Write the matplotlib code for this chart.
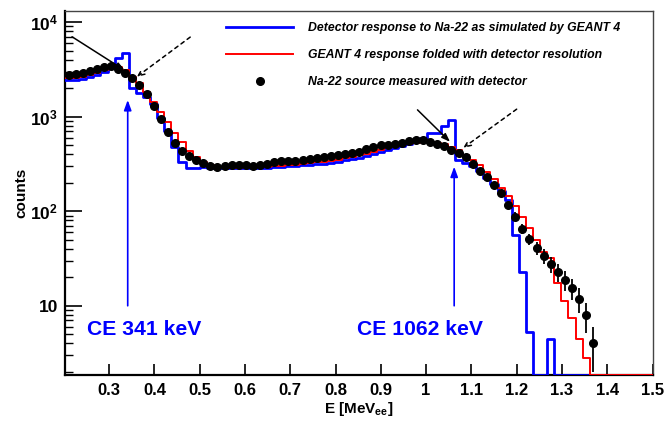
import numpy as np
import matplotlib
matplotlib.use('Agg')
import matplotlib.pyplot as plt
from matplotlib.lines import Line2D
from matplotlib.ticker import FixedLocator, LogLocator, NullFormatter, NullLocator

plt.rcParams['font.family'] = ['Liberation Sans', 'DejaVu Sans']
plt.rcParams['mathtext.fontset'] = 'custom'
plt.rcParams['mathtext.rm'] = 'Liberation Sans:bold'
plt.rcParams['mathtext.bf'] = 'Liberation Sans:bold'
plt.rcParams['mathtext.it'] = 'Liberation Sans:bold:italic'

# ---- data -------------------------------------------------------------
bin_start = 0.2025      # MeV_ee, low edge of first bin
bin_width = 0.01566     # MeV_ee

geant = [2422, 2452, 2512, 2606, 2735, 2943, 3365, 4160, 4698, 2003,
         1773, 1620, 1366, 964, 707, 483, 335, 285, 285, 296,
         285, 284, 284, 284, 285, 285, 287, 287, 289, 291,
         294, 298, 302, 305, 309, 313, 318, 324, 334, 345,
         353, 367, 382, 399, 419, 440, 462, 487, 516, 548,
         597, 669, 669, 799, 914, 349, 324, 302, 267, 225,
         195, 164, 132, 56.2, 23.0, 5.3, 0, 0, 4.5, 0,
         0, 0, 0, 0, 0, 0, 0, 0, 0, 0, 0, 0, 0]

folded = [2543, 2574, 2637, 2735, 2908, 3128, 3325, 3365, 3128, 2657,
          2262, 1830, 1445, 1132, 888, 679, 545, 438, 378, 335,
          305, 294, 291, 289, 289, 291, 292, 294, 296, 299,
          303, 307, 311, 317, 322, 328, 335, 342, 352, 362,
          376, 390, 406, 424, 443, 462, 482, 501, 518, 532,
          541, 541, 532, 509, 479, 445, 394, 349, 309, 263,
          218, 175, 145, 114, 87.7, 66.1, 49.7, 37.1, 31.8, 17.3,
          11.1, 7.4, 4.5, 2.8, 0, 0, 0, 0, 0, 0, 0, 0, 0]

measured = [2769, 2838, 2930, 3052, 3205, 3340, 3448, 3205, 2930, 2555,
            2170, 1730, 1311, 952, 691, 528, 435, 385, 349, 322,
            304, 296, 300, 307, 309, 307, 304, 305, 317, 330,
            338, 341, 341, 347, 355, 366, 375, 385, 394, 401,
            411, 427, 456, 483, 499, 507, 516, 531, 550, 561,
            561, 539, 513, 485, 448, 416, 371, 317, 267, 229,
            190, 155, 115, 87.7, 65.5, 50.9, 41.2, 33.7, 27.4, 22.6,
            18.8, 15.4, 11.8, 8.0, 4.0]

legend_labels = ['Detector response to Na-22 as simulated by GEANT 4',
                 'GEANT 4 response folded with detector resolution',
                 'Na-22 source measured with detector']

peak_energies = [0.341, 1.062]
peak_labels = ['CE 341 keV', 'CE 1062 keV']

xticks = [0.3, 0.4, 0.5, 0.6, 0.7, 0.8, 0.9, 1.0, 1.1, 1.2, 1.3, 1.4, 1.5]
xticklabels = ['0.3', '0.4', '0.5', '0.6', '0.7', '0.8', '0.9', '1', '1.1',
               '1.2', '1.3', '1.4', '1.5']
yticks = [10, 100, 1000, 10000]
yticklabels = ['10', r'$10^{2}$', r'$10^{3}$', r'$10^{4}$']

YMIN, YMAX = 1.853, 13200
XMIN, XMAX = 0.2025, 1.5

# ---- figure -----------------------------------------------------------
fig = plt.figure(figsize=(6.66, 4.23), dpi=100)
ax = fig.add_axes([65 / 666, 1 - 375 / 423, (652.5 - 65) / 666, (375 - 10.7) / 423])

geant_a = np.array(geant, dtype=float)
folded_a = np.array(folded, dtype=float)
meas_a = np.array(measured, dtype=float)

edges_g = bin_start + bin_width * np.arange(len(geant_a) + 1)
edges_f = bin_start + bin_width * np.arange(len(folded_a) + 1)
centers_m = bin_start + bin_width * (np.arange(len(meas_a)) + 0.5)

g_draw = np.where(geant_a > 0, geant_a, YMIN)
f_draw = np.where(folded_a > 0, folded_a, YMIN)

l_blue, = ax.plot(edges_g, np.append(g_draw, g_draw[-1]), drawstyle='steps-post',
                  color='#0000ff', lw=2.0, zorder=3)
l_red, = ax.plot(edges_f, np.append(f_draw, f_draw[-1]), drawstyle='steps-post',
                 color='#ff0000', lw=1.4, zorder=4)

err = np.sqrt(meas_a)
ax.errorbar(centers_m, meas_a, yerr=err, fmt='none', ecolor='black',
            elinewidth=1.3, capsize=0, zorder=5)
l_dot, = ax.plot(centers_m, meas_a, 'o', color='black', ms=5.5, zorder=6)

ax.set_yscale('log')
ax.set_xlim(XMIN, XMAX)
ax.set_ylim(YMIN, YMAX)

# ticks
ax.xaxis.set_major_locator(FixedLocator(xticks))
ax.set_xticklabels(xticklabels)
ax.xaxis.set_minor_locator(NullLocator())
ax.yaxis.set_major_locator(FixedLocator(yticks))
ax.set_yticklabels(yticklabels)
ax.yaxis.set_minor_locator(LogLocator(base=10, subs=np.arange(2, 10), numticks=20))
ax.yaxis.set_minor_formatter(NullFormatter())
ax.tick_params(axis='y', which='major', direction='in', length=12, width=1.2,
               right=False, pad=5, labelsize=12.5)
ax.tick_params(axis='y', which='minor', direction='in', length=5.8, width=1.0, right=False)
ax.tick_params(axis='x', which='major', direction='in', length=7.7, width=1.2,
               top=False, pad=5.5, labelsize=12)
for lab in ax.get_xticklabels() + ax.get_yticklabels():
    lab.set_fontweight('bold')

for s in ['left', 'bottom']:
    ax.spines[s].set_linewidth(1.6)
    ax.spines[s].set_color('black')
for s in ['top', 'right']:
    ax.spines[s].set_linewidth(1.0)
    ax.spines[s].set_color('#444444')

ax.set_xlabel(r'E [MeV$_{\mathbf{ee}}$]', fontsize=11, fontweight='bold', labelpad=2)
ax.set_ylabel('counts', fontsize=11, fontweight='bold', labelpad=1)

# black arrows pointing at the Compton edges
arrow_solid = [((0.218, 7000), (0.334, 3100)), ((0.981, 1180), (1.053, 541))]
arrow_dash = [((0.479, 6940), (0.361, 2640)), ((1.200, 1200), (1.082, 468))]
for start, end in arrow_solid:
    ax.annotate('', xy=end, xytext=start,
                arrowprops=dict(arrowstyle='-|>,head_length=0.5,head_width=0.18',
                                color='black', lw=1.1, shrinkA=0, shrinkB=0),
                zorder=7)
for start, end in arrow_dash:
    ax.annotate('', xy=end, xytext=start,
                arrowprops=dict(arrowstyle='->,head_length=0.45,head_width=0.2',
                                color='black', lw=1.1, linestyle=(0, (2.5, 2.5)),
                                shrinkA=0, shrinkB=0),
                zorder=7)

# blue vertical arrows + labels
arrow_tips = [1500, 296]
label_x = [0.250, 0.848]
for e, tip, lab, lx in zip(peak_energies, arrow_tips, peak_labels, label_x):
    ax.annotate('', xy=(e, tip), xytext=(e, 10),
                arrowprops=dict(arrowstyle='-|>,head_length=0.6,head_width=0.22',
                                color='#0000ff', lw=1.2, shrinkA=0, shrinkB=0),
                zorder=7)
    ax.text(lx, 4.9, lab, color='#0000ff', fontsize=15.2, fontweight='bold',
            va='baseline', ha='left', zorder=8)

leg = ax.legend([l_blue, l_red, l_dot], legend_labels, loc='upper left',
                bbox_to_anchor=(226 / 666, 1 - 22.5 / 423), bbox_transform=fig.transFigure,
                frameon=False, borderpad=0, borderaxespad=0, handlelength=5.5,
                handletextpad=1.25, labelspacing=1.2, numpoints=1,
                prop=dict(family='Liberation Sans', weight='bold', style='italic', size=8.8))

fig.savefig('out.png', dpi=100)
